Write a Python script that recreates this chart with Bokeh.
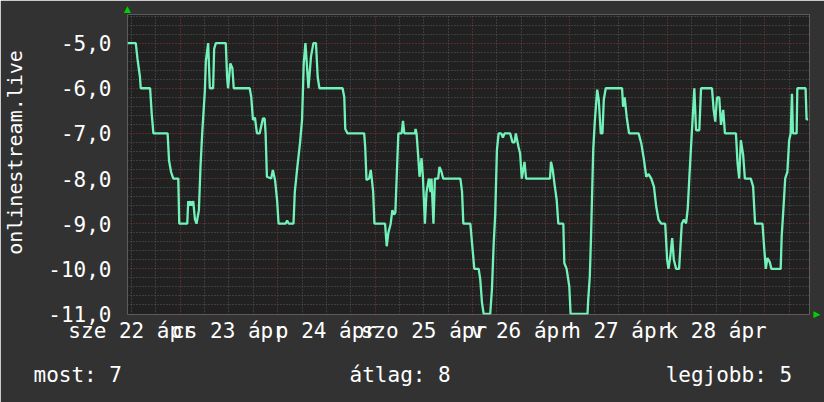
from bokeh.plotting import figure
from bokeh.embed import file_html
from bokeh.resources import INLINE
from bokeh.models import FixedTicker, Range1d, ColumnDataSource, LinearAxis, Title

# ---- data (hours since start of window, rank value) ----
hours = [0.0, 2.04, 2.45, 3.07, 3.26, 5.57, 5.96, 6.38, 9.88, 10.23, 10.72, 11.28, 12.51, 12.75,
         14.72, 14.96, 15.21, 15.53, 15.77, 16.19, 16.61, 17.0, 17.59, 17.98, 18.40, 19.06, 19.30,
         19.87, 20.28, 21.09, 21.34, 21.76, 24.21, 24.53, 24.77, 25.34, 25.83, 26.17, 30.10, 30.49,
         30.91, 31.40, 31.89, 32.55, 33.36, 33.78, 34.02, 34.34, 35.39, 35.81, 36.37, 36.87, 37.21,
         38.93, 39.32, 39.74, 40.89, 41.21, 41.77, 42.51, 43.00, 43.41, 43.83, 44.57, 45.20, 45.79,
         46.43, 46.85, 47.27, 52.98, 53.40, 53.64, 54.21, 58.30, 58.55, 58.87, 59.53, 59.92, 60.17,
         60.51, 60.83, 63.45, 63.85, 64.26, 64.83, 65.24, 65.66, 65.98, 66.30, 66.72, 67.53, 67.87,
         68.19, 70.81, 70.96, 71.20, 71.62, 71.94, 72.43, 72.77, 73.26, 73.66, 74.25, 74.64, 74.88,
         75.37, 75.72, 76.53, 76.85, 77.34, 77.75, 82.00, 82.41, 82.73, 84.45, 84.87, 85.43, 86.51,
         86.90, 87.32, 87.74, 89.35, 89.77, 90.19, 90.58, 91.00, 91.42, 92.05, 92.47, 92.89, 94.26,
         94.85, 95.34, 95.66, 96.32, 96.71, 97.13, 97.79, 98.19, 104.08, 104.32, 104.74, 105.30,
         105.72, 106.13, 107.36, 107.60, 108.17, 108.83, 109.15, 113.32, 113.49, 113.88, 114.18,
         114.72, 115.11, 115.70, 116.09, 116.58, 117.00, 117.32, 117.81, 121.83, 122.08, 122.47,
         122.96, 123.55, 125.90, 126.56, 127.23, 127.79, 128.36, 129.02, 129.68, 130.24, 130.81,
         131.47, 132.45, 132.94, 133.26, 133.68, 134.17, 134.58, 135.15, 135.88, 136.54, 137.03,
         137.60, 138.01, 138.41, 139.00, 139.24, 139.63, 140.05, 140.86, 141.28, 143.98, 144.39,
         144.79, 145.21, 145.77, 146.19, 146.75, 147.17, 149.87, 150.28, 150.68, 151.09, 151.66,
         152.08, 153.54, 154.11, 154.60, 156.42, 156.81, 157.23, 157.64, 158.21, 158.62, 160.90,
         161.15, 161.56, 162.01, 162.55, 162.99, 163.36, 163.68, 163.92, 164.83, 165.00, 167.03,
         167.28, 167.65]
rank = [-5.0, -5.0, -5.34, -5.75, -6.0, -6.0, -6.56, -7.0, -7.0, -7.6, -7.85, -8.0, -8.0, -9.0,
        -9.0, -8.5, -8.6, -8.5, -8.6, -8.5, -8.9, -9.0, -8.7, -7.74, -7.0, -6.05, -5.4,
        -5.0, -6.0, -6.0, -5.13, -5.0, -5.0, -5.75, -6.0, -5.45, -5.55, -6.0, -6.0, -6.2,
        -6.7, -6.65, -7.0, -7.0, -6.67, -6.67, -7.0, -7.96, -8.0, -7.81, -8.05, -8.5, -9.0,
        -9.0, -8.93, -9.0, -9.0, -8.3, -7.8, -7.2, -6.7, -5.45, -5.0, -6.0, -5.3, -5.0,
        -5.0, -5.75, -6.0, -6.0, -6.2, -6.9, -7.0, -7.0, -7.3, -8.03, -8.0, -7.81, -8.0,
        -8.29, -9.0, -9.0, -9.5, -9.2, -9.0, -8.7, -8.8, -8.75, -8.0, -7.0, -7.0, -6.72,
        -7.0, -7.0, -6.9, -7.0, -7.52, -7.96, -7.55, -7.96, -9.0, -8.3, -8.0, -8.3, -8.0,
        -9.0, -8.0, -8.0, -7.74, -7.85, -8.0, -8.0, -8.29, -9.0, -9.0, -9.43, -10.0, -10.0,
        -10.24, -10.75, -11.0, -11.0, -10.46, -9.47, -8.8, -7.37, -7.0, -7.0, -7.09, -7.0, -7.0,
        -7.2, -7.2, -7.0, -7.3, -7.44, -8.0, -7.63, -8.0, -8.0, -7.63, -7.8, -8.2,
        -8.47, -9.0, -9.0, -9.87, -10.0, -10.39, -11.0, -11.0, -10.68, -10.17, -9.3,
        -7.37, -6.74, -6.03, -6.26, -7.0, -7.0, -6.26, -6.0, -6.0, -6.41, -6.2,
        -6.63, -7.0, -7.0, -7.22, -7.59, -7.96, -7.9, -8.0, -8.18, -8.62, -8.91,
        -9.0, -9.0, -9.8, -10.0, -9.75, -9.32, -9.8, -10.0, -10.0, -9.0, -8.91,
        -8.99, -8.66, -7.96, -7.0, -6.63, -6.0, -6.93, -6.93, -6.0, -6.0, -6.48,
        -6.74, -6.2, -6.2, -6.81, -6.48, -7.0, -7.0, -7.66, -8.0, -7.15, -7.48, -8.0,
        -8.0, -8.18, -9.0, -9.0, -9.5, -10.0, -9.76, -9.85, -10.0, -10.0, -9.28, -8.69,
        -8.0, -7.85, -7.15, -7.0, -6.12, -7.0, -7.0, -6.0, -6.0, -6.69, -6.69]

y_ticks = [-11, -10, -9, -8, -7, -6, -5]
y_tick_labels = ["-11,0", "-10,0", "-9,0", "-8,0", "-7,0", "-6,0", "-5,0"]
x_label_hours = [1, 25, 49, 73, 97, 121, 145]
x_tick_labels = ["sze 22 ápr", "cs 23 ápr", "p 24 ápr", "szo 25 ápr", "v 26 ápr", "h 27 ápr", "k 28 ápr"]
day_lines = [13, 37, 61, 85, 109, 133, 157]
six_hour_lines = [h for h in range(1, 168, 6) if h not in day_lines]
y_minor = [round(-11 + 0.2 * k, 1) for k in range(0, 34) if (k % 5) != 0]
series_name = "onlinestream.live"
legend_texts = ["most: 7", "átlag: 8", "legjobb: 5"]

FONT = "DejaVu Sans Mono"
FS = "21px"
NB = "\u00a0"

p = figure(width=824, height=402, x_range=Range1d(0, 168), y_range=Range1d(-11.011, -4.366),
           output_backend="svg", toolbar_location=None,
           min_border_left=124, min_border_right=15, min_border_top=14, min_border_bottom=87)
p.background_fill_color = "#212121"
p.border_fill_color = "#323232"
p.outline_line_color = None

# grids
p.ygrid.ticker = FixedTicker(ticks=y_ticks, minor_ticks=y_minor)
p.ygrid.grid_line_color = "#8a3838"
p.ygrid.grid_line_dash = "1 2"
p.ygrid.minor_grid_line_color = "#5a5a5a"
p.ygrid.minor_grid_line_dash = "1 2"
p.xgrid.ticker = FixedTicker(ticks=day_lines, minor_ticks=six_hour_lines)
p.xgrid.grid_line_color = "#8a3838"
p.xgrid.grid_line_dash = "1 2"
p.xgrid.minor_grid_line_color = "#5a5a5a"
p.xgrid.minor_grid_line_dash = "1 2"


def style_axis(ax, font=FONT, size=FS, color="#ffffff"):
    ax.major_label_text_font = font
    ax.major_label_text_font_size = size
    ax.major_label_text_color = color
    ax.major_tick_line_color = None
    ax.minor_tick_line_color = None
    ax.axis_line_color = None
    ax.major_tick_out = 0
    ax.major_tick_in = 0


# axes
p.yaxis.ticker = FixedTicker(ticks=y_ticks)
p.yaxis.major_label_overrides = dict(zip(y_ticks, y_tick_labels))
p.xaxis.ticker = FixedTicker(ticks=x_label_hours)
p.xaxis.major_label_overrides = dict(zip(x_label_hours, x_tick_labels))
style_axis(p.xaxis[0])
style_axis(p.yaxis[0])
p.yaxis.major_label_standoff = 16
p.xaxis.major_label_standoff = 4

# y-axis title (shifted up with leading no-break spaces)
p.yaxis.axis_label = NB * 2 + series_name
p.yaxis.axis_label_text_font = FONT
p.yaxis.axis_label_text_font_size = "20px"
p.yaxis.axis_label_text_font_style = "normal"
p.yaxis.axis_label_text_color = "#ffffff"
p.yaxis.axis_label_standoff = 18

# green axis arrows
ax_right = LinearAxis(ticker=FixedTicker(ticks=[-11]), major_label_overrides={-11: "\u25b6"})
style_axis(ax_right, font="DejaVu Sans", size="9px", color="#00d000")
ax_right.major_label_standoff = 4
p.add_layout(ax_right, "right")
ax_top = LinearAxis(ticker=FixedTicker(ticks=[0.0]), major_label_overrides={0: "\u25b2"})
style_axis(ax_top, font="DejaVu Sans", size="9px", color="#00d000")
ax_top.major_label_standoff = 1
p.add_layout(ax_top, "above")

# data line
src = ColumnDataSource(dict(h=hours, v=rank))
p.line("h", "v", source=src, line_color="#72f2b8", line_width=2.3)

# comment line below the chart (monospace, padded with no-break spaces)
legend_line = legend_texts[0] + NB * 18 + legend_texts[1] + NB * 17 + legend_texts[2]
p.add_layout(Title(text=legend_line, align="left", offset=-94, standoff=31, text_font=FONT,
                   text_font_size=FS, text_font_style="normal", text_color="#ffffff"), "below")

open("out.html", "w").write(file_html(p, INLINE))
